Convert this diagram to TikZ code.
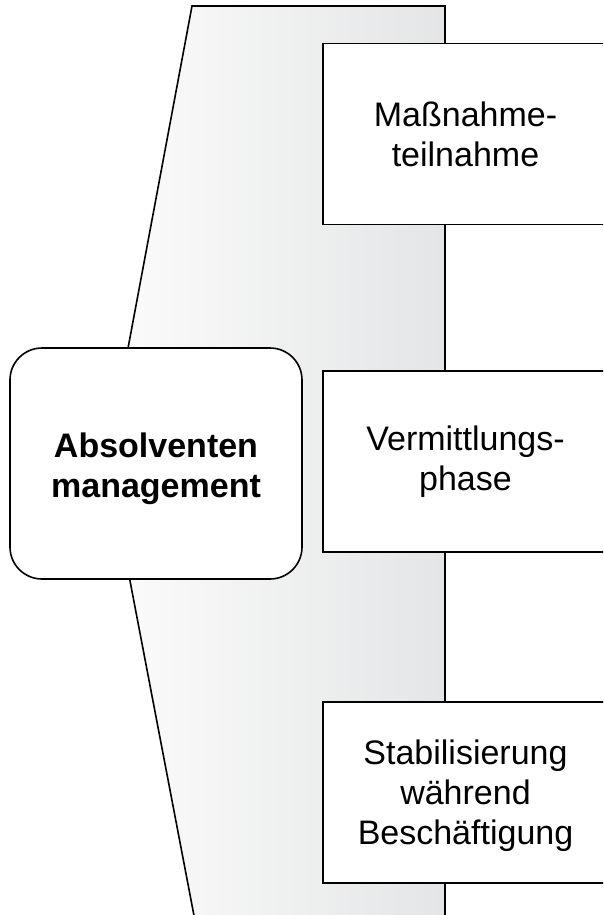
\documentclass[tikz,border=0pt]{standalone}
\usepackage{fontspec}
\setmainfont{Liberation Sans}
\definecolor{funnelL}{RGB}{252,252,252}
\definecolor{funnelR}{RGB}{228,229,230}
\begin{document}
\begin{tikzpicture}[x=1pt,y=-1pt,
  outline/.style={draw=black,line width=1.6pt},
  phasebox/.style={outline,fill=white,rectangle,minimum width=285pt,minimum height=181pt,
    align=center,inner sep=0pt,font=\fontsize{34}{40}\selectfont},
  mainbox/.style={outline,fill=white,rectangle,rounded corners=32pt,minimum width=292pt,minimum height=231pt,
    align=center,inner sep=0pt,font=\fontsize{34}{40}\selectfont\bfseries}]
\useasboundingbox (0,0) rectangle (603,915);
\clip (0,0) rectangle (603,915);
\shade[outline,left color=funnelL,right color=funnelR]
  (192,6) -- (445,6) -- (445,935) -- (197.7,935) -- (107,460.5) -- cycle;
\node[mainbox] (am) at (156,463.5) {\rule{0pt}{35pt}Absolventen\\management};
\node[phasebox] (p1) at (465.5,134) {Maßnahme-\\teilnahme};
\node[phasebox] (p2) at (465.5,461.5) {Vermittlungs-\\phase};
\node[phasebox] (p3) at (465.5,792.5) {\rule{0pt}{31pt}Stabilisierung\\während\\Beschäftigung};
\end{tikzpicture}
\end{document}
